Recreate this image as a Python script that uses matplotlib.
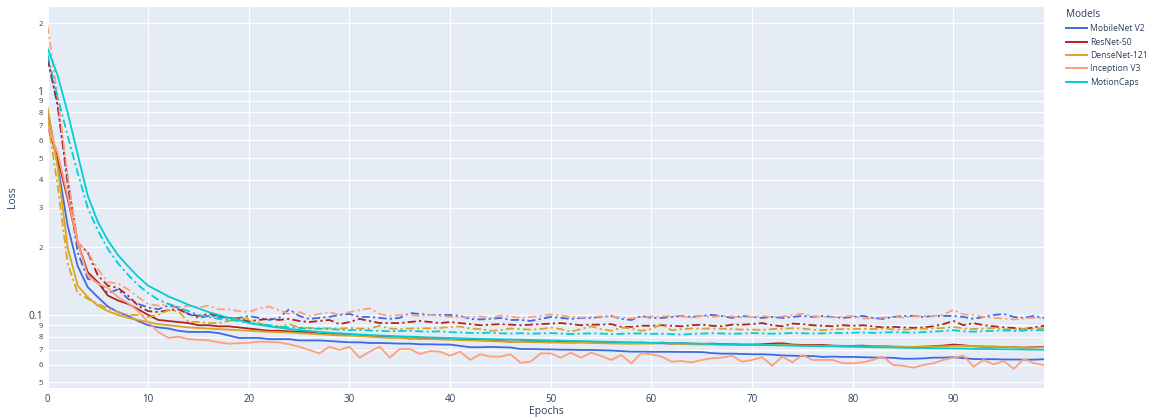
import matplotlib.pyplot as plt
from matplotlib.lines import Line2D
from matplotlib.ticker import FixedLocator, FixedFormatter

plt.rcParams['font.family'] = ['Open Sans', 'DejaVu Sans']

epochs = list(range(100))

models = ['MobileNet V2', 'ResNet-50', 'DenseNet-121', 'Inception V3', 'MotionCaps']
colors = ['royalblue', 'firebrick', 'goldenrod', 'lightsalmon', 'darkturquoise']

# training loss per epoch (solid lines)
mobilenet_train = [
    0.82, 0.47, 0.25, 0.165, 0.133, 0.12, 0.109, 0.103, 0.099, 0.094,
    0.09, 0.088, 0.087, 0.085, 0.084, 0.084, 0.084, 0.083, 0.081, 0.079,
    0.079, 0.079, 0.078, 0.078, 0.078, 0.077, 0.077, 0.077, 0.0765, 0.076,
    0.0755, 0.0755, 0.075, 0.075, 0.0748, 0.0745, 0.0745, 0.074, 0.074, 0.0738,
    0.0738, 0.0728, 0.0718, 0.0718, 0.072, 0.0718, 0.0716, 0.0705, 0.0705, 0.0703,
    0.0702, 0.07, 0.07, 0.0698, 0.0698, 0.0696, 0.0694, 0.069, 0.0686, 0.0686,
    0.0685, 0.0685, 0.0685, 0.0684, 0.0684, 0.0683, 0.0676, 0.0672, 0.0672, 0.067,
    0.0668, 0.0668, 0.0665, 0.066, 0.0658, 0.0656, 0.0656, 0.065, 0.0652, 0.065,
    0.065, 0.0648, 0.0646, 0.0645, 0.0644, 0.0638, 0.0638, 0.064, 0.0645, 0.0645,
    0.0648, 0.0642, 0.0636, 0.0635, 0.0635, 0.0633, 0.0633, 0.0632, 0.0632, 0.0635]
resnet_train = [
    0.70, 0.50, 0.33, 0.21, 0.155, 0.14, 0.122, 0.116, 0.112, 0.106,
    0.1, 0.095, 0.094, 0.093, 0.092, 0.09, 0.09, 0.089, 0.089, 0.088,
    0.087, 0.086, 0.085, 0.085, 0.0845, 0.084, 0.084, 0.0825, 0.082, 0.0825,
    0.082, 0.081, 0.0805, 0.08, 0.08, 0.0795, 0.0785, 0.079, 0.0785, 0.078,
    0.078, 0.0778, 0.0775, 0.0772, 0.0768, 0.0765, 0.076, 0.0762, 0.0765, 0.0758,
    0.0755, 0.076, 0.0765, 0.0758, 0.0755, 0.0755, 0.0752, 0.075, 0.075, 0.0752,
    0.0748, 0.0748, 0.0745, 0.0748, 0.0745, 0.0743, 0.0745, 0.0742, 0.074, 0.0738,
    0.0738, 0.074, 0.0745, 0.0748, 0.0738, 0.0735, 0.0735, 0.0735, 0.073, 0.0728,
    0.0728, 0.073, 0.0725, 0.0725, 0.0722, 0.072, 0.072, 0.0722, 0.0725, 0.073,
    0.0738, 0.0732, 0.0725, 0.0722, 0.0722, 0.072, 0.0718, 0.0715, 0.0718, 0.072]
densenet_train = [
    0.84, 0.46, 0.2, 0.135, 0.12, 0.11, 0.104, 0.1, 0.097, 0.095,
    0.093, 0.091, 0.09, 0.089, 0.088, 0.0875, 0.087, 0.0865, 0.086, 0.0855,
    0.085, 0.0845, 0.084, 0.0838, 0.0835, 0.083, 0.0825, 0.082, 0.0815, 0.081,
    0.0808, 0.0805, 0.08, 0.0795, 0.079, 0.079, 0.0785, 0.078, 0.078, 0.0778,
    0.0775, 0.0772, 0.077, 0.0768, 0.0765, 0.0762, 0.076, 0.0758, 0.0756, 0.0755,
    0.0755, 0.0752, 0.075, 0.0752, 0.075, 0.0748, 0.0746, 0.0745, 0.0744, 0.0745,
    0.0745, 0.0755, 0.0748, 0.0742, 0.074, 0.0738, 0.0738, 0.0736, 0.0735, 0.0735,
    0.0734, 0.0733, 0.0735, 0.0737, 0.0733, 0.073, 0.073, 0.0728, 0.0728, 0.0726,
    0.0725, 0.0725, 0.0724, 0.0724, 0.0722, 0.0722, 0.072, 0.072, 0.0722, 0.0725,
    0.0728, 0.0728, 0.0726, 0.0725, 0.0722, 0.072, 0.0718, 0.0715, 0.0715, 0.0718]
inception_train = [
    0.70, 0.53, 0.34, 0.21, 0.15, 0.138, 0.132, 0.12, 0.113, 0.104,
    0.093, 0.084, 0.079, 0.08, 0.078, 0.0775, 0.077, 0.0755, 0.0745, 0.0748,
    0.0752, 0.076, 0.0758, 0.0755, 0.074, 0.0722, 0.0698, 0.0674, 0.0722, 0.0698,
    0.0722, 0.0645, 0.0686, 0.0722, 0.0645, 0.0705, 0.0705, 0.067, 0.069, 0.0686,
    0.0658, 0.0686, 0.063, 0.0668, 0.0652, 0.0652, 0.0668, 0.0612, 0.0619, 0.0674,
    0.0674, 0.0645, 0.0679, 0.0645, 0.0679, 0.0656, 0.063, 0.0663, 0.0609, 0.0674,
    0.0668, 0.0652, 0.0619, 0.0623, 0.0615, 0.063, 0.0641, 0.0645, 0.0658, 0.0619,
    0.063, 0.0648, 0.0594, 0.0652, 0.0615, 0.0663, 0.063, 0.063, 0.063, 0.0609,
    0.0609, 0.0615, 0.063, 0.0652, 0.0598, 0.0594, 0.0582, 0.0598, 0.0609, 0.063,
    0.0645, 0.0658, 0.0588, 0.063, 0.0602, 0.0623, 0.0575, 0.0637, 0.0609, 0.0598]
motioncaps_train = [
    1.55, 1.17, 0.8, 0.52, 0.34, 0.26, 0.215, 0.185, 0.165, 0.148,
    0.135, 0.128, 0.121, 0.116, 0.111, 0.107, 0.103, 0.1, 0.097, 0.095,
    0.092, 0.0905, 0.089, 0.0878, 0.0866, 0.0856, 0.0848, 0.084, 0.0834, 0.0828,
    0.0823, 0.0818, 0.0814, 0.081, 0.0806, 0.0803, 0.08, 0.0797, 0.0794, 0.0791,
    0.0789, 0.0787, 0.0785, 0.0783, 0.0781, 0.0779, 0.0777, 0.0776, 0.0774, 0.0772,
    0.077, 0.0768, 0.0766, 0.0765, 0.0763, 0.0761, 0.0759, 0.0757, 0.0756, 0.0754,
    0.0752, 0.075, 0.0749, 0.0747, 0.0745, 0.0744, 0.0742, 0.074, 0.0739, 0.0737,
    0.0736, 0.0734, 0.0733, 0.0731, 0.073, 0.0728, 0.0727, 0.0725, 0.0724, 0.0722,
    0.0721, 0.072, 0.0718, 0.0717, 0.0716, 0.0714, 0.0713, 0.0712, 0.0711, 0.071,
    0.0709, 0.0708, 0.0706, 0.0705, 0.0704, 0.0703, 0.0702, 0.0701, 0.07, 0.0699]

# validation loss per epoch (dash-dot lines)
mobilenet_val = [
    1.38, 0.88, 0.38, 0.19, 0.145, 0.14, 0.125, 0.13, 0.118, 0.112,
    0.108, 0.106, 0.11, 0.108, 0.101, 0.097, 0.099, 0.098, 0.097, 0.097,
    0.099, 0.097, 0.095, 0.097, 0.106, 0.099, 0.096, 0.097, 0.098, 0.1,
    0.101, 0.098, 0.098, 0.097, 0.096, 0.097, 0.102, 0.101, 0.1, 0.1,
    0.1, 0.099, 0.096, 0.0955, 0.096, 0.097, 0.095, 0.095, 0.094, 0.096,
    0.098, 0.097, 0.096, 0.097, 0.097, 0.098, 0.099, 0.096, 0.095, 0.099,
    0.097, 0.097, 0.098, 0.099, 0.098, 0.099, 0.1, 0.099, 0.097, 0.099,
    0.098, 0.097, 0.098, 0.097, 0.098, 0.099, 0.098, 0.099, 0.098, 0.097,
    0.098, 0.099, 0.097, 0.096, 0.098, 0.099, 0.099, 0.098, 0.099, 0.099,
    0.099, 0.098, 0.096, 0.098, 0.1, 0.101, 0.098, 0.097, 0.099, 0.097]
resnet_val = [
    1.40, 0.86, 0.40, 0.21, 0.19, 0.15, 0.135, 0.132, 0.122, 0.11,
    0.104, 0.103, 0.105, 0.106, 0.101, 0.099, 0.101, 0.099, 0.097, 0.096,
    0.0935, 0.095, 0.096, 0.095, 0.096, 0.094, 0.093, 0.094, 0.095, 0.091,
    0.093, 0.096, 0.094, 0.092, 0.092, 0.092, 0.093, 0.094, 0.093, 0.092,
    0.093, 0.092, 0.091, 0.09, 0.0905, 0.091, 0.0905, 0.09, 0.0905, 0.091,
    0.0915, 0.092, 0.091, 0.09, 0.0905, 0.0905, 0.091, 0.0885, 0.0885, 0.0895,
    0.0895, 0.09, 0.0895, 0.089, 0.09, 0.0905, 0.0895, 0.089, 0.0905, 0.0905,
    0.091, 0.092, 0.09, 0.089, 0.0915, 0.091, 0.09, 0.0895, 0.089, 0.09,
    0.0895, 0.09, 0.089, 0.088, 0.0885, 0.088, 0.0875, 0.088, 0.089, 0.091,
    0.094, 0.09, 0.092, 0.09, 0.089, 0.088, 0.0875, 0.0865, 0.088, 0.0895]
densenet_val = [
    0.75, 0.38, 0.17, 0.125, 0.118, 0.112, 0.107, 0.103, 0.1, 0.1,
    0.098, 0.1, 0.105, 0.104, 0.093, 0.093, 0.092, 0.092, 0.094, 0.097,
    0.096, 0.092, 0.089, 0.0885, 0.091, 0.088, 0.0875, 0.0872, 0.0872, 0.087,
    0.0875, 0.087, 0.0868, 0.0895, 0.087, 0.0865, 0.087, 0.0872, 0.0872, 0.0875,
    0.0885, 0.0888, 0.087, 0.0865, 0.085, 0.0855, 0.087, 0.0865, 0.086, 0.0865,
    0.0878, 0.0865, 0.0842, 0.0865, 0.089, 0.0865, 0.085, 0.0878, 0.087, 0.085,
    0.0865, 0.091, 0.0855, 0.0865, 0.087, 0.0868, 0.087, 0.0868, 0.0865, 0.086,
    0.086, 0.0858, 0.0865, 0.087, 0.0872, 0.087, 0.086, 0.0855, 0.0862, 0.0865,
    0.0865, 0.0868, 0.0865, 0.087, 0.0862, 0.086, 0.0865, 0.0868, 0.087, 0.0875,
    0.0885, 0.087, 0.0865, 0.087, 0.0875, 0.0865, 0.086, 0.0868, 0.0872, 0.0872]
inception_val = [
    1.95, 0.95, 0.42, 0.21, 0.19, 0.16, 0.14, 0.138, 0.13, 0.12,
    0.112, 0.11, 0.112, 0.108, 0.11, 0.108, 0.11, 0.106, 0.106, 0.104,
    0.103, 0.107, 0.109, 0.105, 0.101, 0.103, 0.099, 0.101, 0.103, 0.1,
    0.103, 0.105, 0.107, 0.101, 0.099, 0.1, 0.1, 0.099, 0.1, 0.099,
    0.098, 0.0975, 0.098, 0.0985, 0.097, 0.0995, 0.0985, 0.097, 0.098, 0.099,
    0.1005, 0.0995, 0.098, 0.0975, 0.098, 0.0985, 0.0985, 0.0975, 0.0965, 0.098,
    0.0985, 0.0985, 0.099, 0.0985, 0.0975, 0.099, 0.098, 0.099, 0.0985, 0.0975,
    0.098, 0.099, 0.098, 0.0985, 0.1, 0.1012, 0.099, 0.098, 0.0975, 0.0985,
    0.099, 0.0965, 0.0965, 0.0975, 0.098, 0.0975, 0.0985, 0.099, 0.099, 0.1,
    0.1055, 0.1005, 0.1, 0.098, 0.097, 0.0965, 0.0955, 0.0965, 0.097, 0.0965]
motioncaps_val = [
    1.45, 0.94, 0.63, 0.43, 0.3, 0.238, 0.197, 0.17, 0.151, 0.136,
    0.125, 0.117, 0.112, 0.108, 0.104, 0.1, 0.098, 0.096, 0.095, 0.094,
    0.092, 0.091, 0.09, 0.089, 0.088, 0.0875, 0.087, 0.0868, 0.0865, 0.086,
    0.0855, 0.0858, 0.0852, 0.085, 0.0845, 0.0848, 0.085, 0.0845, 0.0842, 0.0845,
    0.0838, 0.0835, 0.0832, 0.083, 0.0834, 0.0828, 0.0826, 0.0829, 0.0825, 0.0827,
    0.083, 0.0826, 0.0822, 0.0825, 0.0828, 0.0826, 0.0822, 0.0824, 0.0828, 0.0826,
    0.0823, 0.0825, 0.0821, 0.0818, 0.0822, 0.0826, 0.0829, 0.0827, 0.0824, 0.0826,
    0.083, 0.0828, 0.0825, 0.0827, 0.0831, 0.0829, 0.0826, 0.0828, 0.0832, 0.083,
    0.0833, 0.0836, 0.0832, 0.0835, 0.0838, 0.0836, 0.0834, 0.0838, 0.0842, 0.0848,
    0.0855, 0.0846, 0.0842, 0.0847, 0.085, 0.0853, 0.0848, 0.0852, 0.0856, 0.0855]

train_losses = [mobilenet_train, resnet_train, densenet_train, inception_train, motioncaps_train]
val_losses = [mobilenet_val, resnet_val, densenet_val, inception_val, motioncaps_val]

text_color = '#2a3f5f'

fig = plt.figure(figsize=(11.49, 4.19), dpi=100)
ax = fig.add_axes([47.5 / 1149, 31 / 419, 996.5 / 1149, 381 / 419])
ax.set_facecolor('#e5ecf6')

for train, val, c in zip(train_losses, val_losses, colors):
    ax.plot(epochs, train, color=c, lw=1.3)
    ax.plot(epochs, val, color=c, lw=1.3, dashes=(4.5, 1.8, 1.2, 1.8))

ax.set_yscale('log')
ax.set_xlim(0, 99)
ax.set_ylim(0.04724, 2.36)

ax.set_xticks(range(0, 100, 10))
major_y = [0.1, 1]
minor_y = [0.05, 0.06, 0.07, 0.08, 0.09,
           0.2, 0.3, 0.4, 0.5, 0.6, 0.7, 0.8, 0.9, 2]
ax.yaxis.set_major_locator(FixedLocator(major_y))
ax.yaxis.set_major_formatter(FixedFormatter(['0.1', '1']))
ax.yaxis.set_minor_locator(FixedLocator(minor_y))
ax.yaxis.set_minor_formatter(FixedFormatter(['5', '6', '7', '8', '9',
                                             '2', '3', '4', '5', '6', '7', '8', '9', '2']))

ax.tick_params(axis='both', which='both', length=0, colors=text_color)
ax.tick_params(axis='x', labelsize=7, pad=4)
ax.tick_params(axis='y', which='major', labelsize=7.5, pad=3)
ax.tick_params(axis='y', which='minor', labelsize=5.5, pad=3)

ax.grid(True, which='both', color='white', lw=0.9)
ax.set_axisbelow(True)
for s in ax.spines.values():
    s.set_visible(False)

fig.text(546 / 1149, 1 - 411 / 419, 'Epochs', ha='center', va='center',
         fontsize=7.5, color=text_color)
fig.text(12 / 1149, 1 - 197 / 419, 'Loss', ha='center', va='center',
         rotation=90, fontsize=7.5, color=text_color)

handles = [Line2D([], [], color=c, lw=1.4) for c in colors]
fig.legend(handles, models, title='Models', loc='upper left',
           bbox_to_anchor=(1066 / 1149, 1 - 9 / 419), frameon=False,
           fontsize=6.2, title_fontsize=7.2, alignment='left',
           borderpad=0, borderaxespad=0, handlelength=2.4,
           handletextpad=0.35, labelspacing=0.5, labelcolor=text_color)
fig.legends[0].get_title().set_color(text_color)

fig.savefig('out.png', dpi=100)
